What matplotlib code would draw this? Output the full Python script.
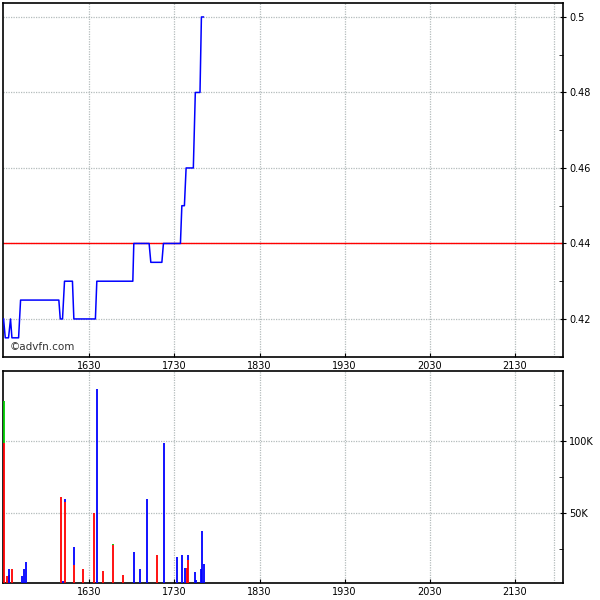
import matplotlib.pyplot as plt
from matplotlib.ticker import FixedLocator, MultipleLocator, FuncFormatter

# Intraday trades (minutes since midnight, price)
trade_times = [929.4, 930.6, 932.9, 934.3, 935.3, 940.0, 941.4, 968.4, 969.4, 971.0,
               972.4, 978.0, 979.0, 994.2, 995.2, 1020.6, 1021.3, 1032.1, 1033.3, 1041.1,
               1042.2, 1054.2, 1055.2, 1057.0, 1058.2, 1063.3, 1064.7, 1068.0, 1069.0, 1070.4]
trade_prices = [0.42, 0.415, 0.415, 0.42, 0.415, 0.415, 0.425, 0.425, 0.42, 0.42,
                0.43, 0.43, 0.42, 0.42, 0.43, 0.43, 0.44, 0.44, 0.435, 0.435,
                0.44, 0.44, 0.45, 0.45, 0.46, 0.46, 0.48, 0.48, 0.5, 0.5]
prev_close = 0.44

# Volume per print, split by trade side
vol_times = [929.9, 931.5, 932.9, 933.4, 935.5, 942.1, 943.5, 944.9, 969.6, 971.0,
             973.1, 979.4, 985.8, 993.5, 995.6, 999.9, 1006.9, 1014.0, 1021.7, 1026.0,
             1030.9, 1037.9, 1042.9, 1052.0, 1055.6, 1057.7, 1059.1, 1059.8, 1064.7, 1065.4,
             1069.0, 1069.7, 1071.1]
vol_sell = [98400, 6600, 0, 7300, 11500, 0, 0, 0, 61500, 0,
            58000, 14200, 11500, 50000, 0, 10000, 28000, 7300, 0, 0,
            0, 21200, 0, 0, 0, 0, 12200, 17700, 0, 0,
            0, 0, 0]
vol_buy = [0, 0, 11500, 0, 0, 6600, 11500, 16300, 0, 3000,
           2000, 12500, 0, 0, 136000, 0, 0, 0, 23200, 11500,
           60000, 0, 98600, 19800, 21200, 12200, 0, 3500, 9400, 3900,
           11500, 37700, 14900]
vol_neutral = [29300, 0, 0, 0, 0, 0, 0, 0, 0, 0,
               0, 0, 0, 0, 0, 0, 500, 0, 0, 0,
               0, 0, 0, 0, 0, 0, 0, 0, 0, 0,
               0, 0, 0]

hour_ticks = [990, 1050, 1110, 1170, 1230, 1290]
hour_labels = ['1630', '1730', '1830', '1930', '2030', '2130']
close_mark = 1318

grid_kw = dict(color='#b4bcbc', linestyle=(0, (1, 1)), linewidth=0.9)

fig = plt.figure(figsize=(6, 6), dpi=100)
ax1 = fig.add_axes([0.005, 0.4055, 0.933, 0.5895])
ax2 = fig.add_axes([0.005, 0.0288, 0.933, 0.3534])

for ax in (ax1, ax2):
    ax.set_xlim(929, 1324)
    ax.xaxis.set_major_locator(FixedLocator(hour_ticks))
    ax.set_xticklabels(hour_labels)
    ax.yaxis.tick_right()
    ax.tick_params(axis='x', direction='in', length=3, labelsize=7, pad=3)
    ax.tick_params(axis='y', which='major', direction='inout', length=5, labelsize=7, pad=2)
    ax.tick_params(axis='y', which='minor', direction='in', length=3)
    ax.grid(True, which='major', **grid_kw)
    ax.axvline(close_mark, **grid_kw)
    for s in ax.spines.values():
        s.set_linewidth(1.2)
    ax.set_axisbelow(True)

# Price panel
ax1.set_ylim(0.41, 0.5037)
ax1.yaxis.set_major_locator(FixedLocator([0.42, 0.44, 0.46, 0.48, 0.5]))
ax1.yaxis.set_minor_locator(MultipleLocator(0.01))
ax1.yaxis.set_major_formatter(FuncFormatter(lambda v, p: f'{v:g}'))
ax1.axhline(prev_close, color='#ff0000', linewidth=1.0, zorder=2)
ax1.plot(trade_times, trade_prices, color='#0000ff', linewidth=1.1, zorder=3)
ax1.text(0.012, 0.012, '©advfn.com', transform=ax1.transAxes, fontsize=7.5,
         color='#333333', ha='left', va='bottom')

# Volume panel
ax2.set_ylim(2000, 148600)
ax2.yaxis.set_major_locator(FixedLocator([50000, 100000]))
ax2.yaxis.set_minor_locator(MultipleLocator(25000))
ax2.yaxis.set_major_formatter(FuncFormatter(lambda v, p: f'{int(v / 1000)}K'))
lw = 1.3
s_top = vol_sell
b_top = [s + b for s, b in zip(vol_sell, vol_buy)]
n_top = [bt + n for bt, n in zip(b_top, vol_neutral)]
ax2.vlines(vol_times, 0, s_top, color='#ff0000', linewidth=lw, zorder=3)
ax2.vlines(vol_times, s_top, b_top, color='#0000ff', linewidth=lw, zorder=3)
ax2.vlines(vol_times, b_top, n_top, color='#00cc00', linewidth=lw, zorder=3)

fig.savefig('out.png', dpi=100)
